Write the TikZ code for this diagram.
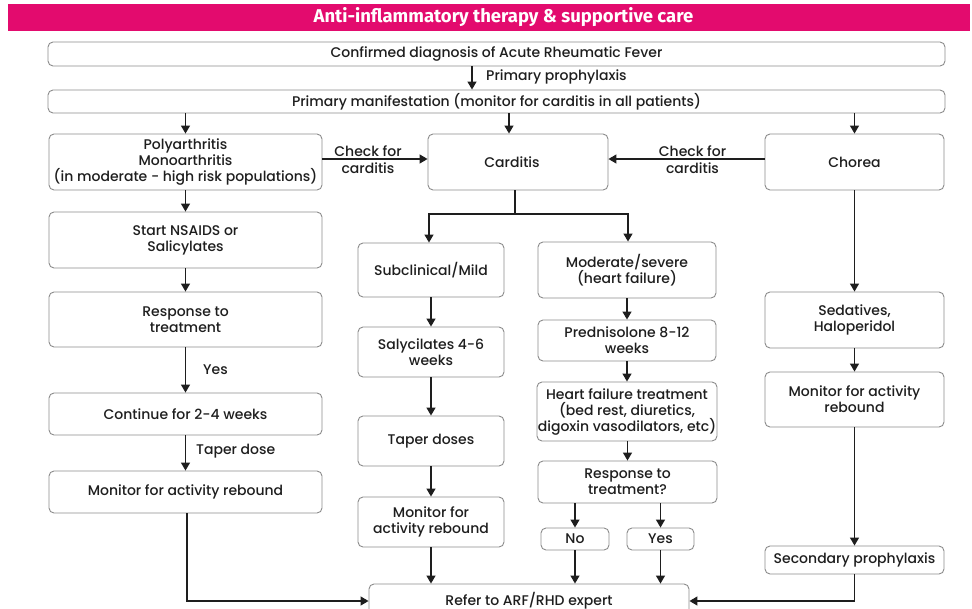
\documentclass[tikz,border=0pt]{standalone}
\usepackage{fontspec}
\setmainfont{Poppins Medium}
\newfontfamily\titlefont{Fira Sans}
\usetikzlibrary{arrows.meta,calc}
\definecolor{brand}{HTML}{E30B6E}
\definecolor{boxline}{HTML}{8C8C8C}
\definecolor{ink}{HTML}{1E1E1E}
\begin{document}
\begin{tikzpicture}[x=1pt,y=-1pt,
  box/.style={draw=boxline, line width=0.9pt, rounded corners=5pt, fill=white, align=center, inner sep=1pt, text=ink, font=\fontsize{14}{16}\selectfont},
  sz/.style 2 args={minimum width=#1pt, minimum height=#2pt},
  arr/.style={-{Triangle[length=8pt,width=9pt]}, line width=1.3pt, draw=ink},
  lbl/.style={text=ink, font=\fontsize{14}{16}\selectfont, inner sep=0pt}]
\useasboundingbox (0,0) rectangle (972,608);
\fill[white] (0,0) rectangle (972,608);
% title
\node[fill=brand, sz={962}{27}, inner sep=0pt] (band) at (489,17.5) {};
\node[text=white, inner sep=0pt, font=\titlefont\bfseries\fontsize{18.5}{20}\selectfont] (title) at (503.5,17) {Anti-inflammatory therapy \& supportive care};
% top boxes
\node[box, sz={897}{24}] (conf) at (496.5,54) {Confirmed diagnosis of Acute Rheumatic Fever};
\node[box, sz={897}{23}] (prim) at (496.5,101.5) {Primary manifestation (monitor for carditis in all patients)};
% row 1
\node[box, sz={273}{56}] (poly) at (185.5,162) {Polyarthritis\\Monoarthritis\\(in moderate - high risk populations)};
\node[box, sz={180}{56}] (card) at (518,162) {\hspace*{-12pt}Carditis};
\node[box, sz={179}{56}] (chor) at (854.5,162) {Chorea};
% left column
\node[box, sz={273}{56}] (nsaid) at (185.5,240) {Start NSAIDS or\\Salicylates};
\node[box, sz={273}{55}] (resp) at (185.5,319.5) {Response to\\treatment};
\node[box, sz={273}{42}] (cont) at (185.5,414) {Continue for 2-4 weeks};
\node[box, sz={273}{42}] (mon1) at (185.5,492) {Monitor for activity rebound};
% middle column
\node[box, sz={146}{54}] (sub) at (431,270) {Subclinical/Mild};
\node[box, sz={146}{50}] (saly) at (431,352) {Salycilates 4-6\\weeks};
\node[box, sz={146}{50}] (taper) at (431,441) {Taper doses};
\node[box, sz={146}{50}] (mon2) at (431,522) {Monitor for\\activity rebound};
% right-middle column
\node[box, sz={178}{56}] (mod) at (627,270) {Moderate/severe\\(heart failure)};
\node[box, sz={178}{41}] (pred) at (627,340.5) {Prednisolone 8-12\\weeks};
\node[box, sz={180}{59}, inner sep=0pt] (hf) at (627,411.5) {Heart failure treatment\\(bed rest, diuretics,\\digoxin vasodilators, etc)};
\node[box, sz={179}{42}] (resp2) at (627.5,482) {Response to\\treatment?};
\node[box, sz={68}{22}] (no) at (575,539) {No};
\node[box, sz={67}{22}] (yes) at (660.5,539) {Yes};
% chorea column
\node[box, sz={179}{56}] (sed) at (854.5,320) {Sedatives,\\Haloperidol};
\node[box, sz={179}{55}] (mon3) at (854.5,399.5) {Monitor for activity\\rebound};
\node[box, sz={179}{28}] (sec) at (854.5,560) {Secondary prophylaxis};
% bottom
\node[box, sz={320}{34}] (refer) at (529,601) {\raisebox{3pt}{Refer to ARF/RHD expert}};
% connectors
\draw[arr] (conf.south -| 472,0) -- (prim.north -| 472,0);
\node[lbl, anchor=west] (pp) at (486,77) {Primary prophylaxis};
\draw[arr] (prim.south -| poly.north) -- (poly.north);
\draw[arr] (prim.south -| 509,0) -- (card.north -| 509,0);
\draw[arr] (prim.south -| chor.north) -- (chor.north);
\draw[arr] (poly.east |- 0,159) -- (card.west |- 0,159);
\node[lbl] (cf1a) at (368,151) {Check for};
\node[lbl] (cf1b) at (368,168) {carditis};
\draw[arr] (chor.west |- 0,159) -- (card.east |- 0,159);
\node[lbl] (cf2a) at (692.5,151) {Check for};
\node[lbl] (cf2b) at (692.5,168) {carditis};
\coordinate (sp) at (515,214);
\coordinate (spl) at (429,214);
\coordinate (spr) at (628,214);
\draw[arr] (card.south -| sp) -- (sp) -| (sub.north -| spl);
\draw[arr] (sp) -| (mod.north -| spr);
% left chain
\draw[arr] (poly) -- (nsaid);
\draw[arr] (nsaid) -- (resp);
\draw[arr] (resp) -- (cont);
\node[lbl, anchor=west] (yl) at (203,370) {Yes};
\draw[arr] (cont) -- (mon1);
\node[lbl, anchor=west] (td) at (196,451) {Taper dose};
\draw[arr] (mon1.south -| 187,0) |- (refer.west);
% middle chain
\draw[arr] (sub) -- (saly);
\draw[arr] (saly) -- (taper);
\draw[arr] (taper) -- (mon2);
\draw[arr] (mon2.south) -- (refer.north -| mon2.south);
% right-middle chain
\draw[arr] (mod) -- (pred);
\draw[arr] (pred) -- (hf);
\draw[arr] (hf.south -| resp2.north) -- (resp2.north);
\draw[arr] (resp2.south -| no.north) -- (no.north);
\draw[arr] (resp2.south -| yes.north) -- (yes.north);
\draw[arr] (no.south) -- (refer.north -| no.south);
\draw[arr] (yes.south) -- (refer.north -| yes.south);
% chorea chain
\draw[arr] (chor) -- (sed);
\draw[arr] (sed) -- (mon3);
\draw[arr] (mon3) -- (sec);
\draw[arr] (sec.south) |- (refer.east);
\end{tikzpicture}
\end{document}
